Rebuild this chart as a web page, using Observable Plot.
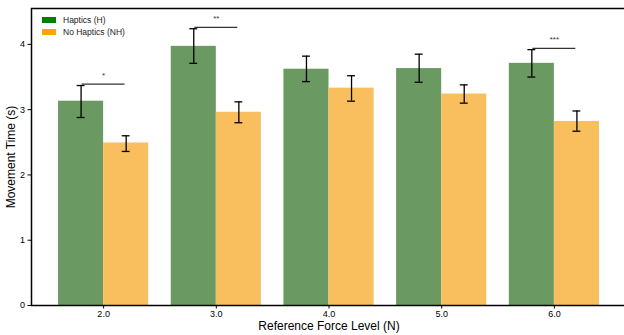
<!DOCTYPE html>
<html>
<head>
<meta charset="utf-8">
<script src="https://cdn.jsdelivr.net/npm/d3@7"></script>
<script src="https://cdn.jsdelivr.net/npm/@observablehq/plot@0.6"></script>
<style>
  html, body { margin: 0; padding: 0; background: #fff; }
  #wrap { position: relative; width: 624px; height: 335px; overflow: hidden; font-family: "Liberation Sans", Arial, sans-serif; }
  .legend { position: absolute; left: 42px; top: 14px; font-size: 8.5px; color: #222; line-height: 12px; }
  .legend .row { display: flex; align-items: center; height: 12px; }
  .legend .sw { width: 14px; height: 6px; margin-right: 7px; }
</style>
</head>
<body>
<div id="wrap"></div>
<script>
const forceLevels = ["2.0", "3.0", "4.0", "5.0", "6.0"];
const hapticsMean = [3.13, 3.97, 3.62, 3.63, 3.71];
const hapticsLow  = [2.88, 3.71, 3.43, 3.42, 3.50];
const hapticsHigh = [3.37, 4.24, 3.82, 3.85, 3.92];
const noHapticsMean = [2.49, 2.96, 3.33, 3.24, 2.82];
const noHapticsLow  = [2.36, 2.80, 3.13, 3.10, 2.67];
const noHapticsHigh = [2.60, 3.12, 3.52, 3.38, 2.98];
const sigLabels = ["*", "**", "", "", "***"];
const sigLineY = [3.39, 4.26, null, null, 3.94];
const yTicks = [0, 1, 2, 3, 4];

const barW = 0.4;
const green = "#6a9a62", orange = "#f9bf5f";

const bars = [];
forceLevels.forEach((f, i) => {
  bars.push({i, group: "H", x1: i - barW, x2: i, xc: i - barW / 2, mean: hapticsMean[i], lo: hapticsLow[i], hi: hapticsHigh[i]});
  bars.push({i, group: "NH", x1: i, x2: i + barW, xc: i + barW / 2, mean: noHapticsMean[i], lo: noHapticsLow[i], hi: noHapticsHigh[i]});
});
const sigs = forceLevels.map((f, i) => ({i, label: sigLabels[i], y: sigLineY[i]})).filter(d => d.label);
const cap = 0.035;

const chart = Plot.plot({
  width: 624,
  height: 335,
  marginLeft: 31,
  marginRight: -2,
  marginTop: 8,
  marginBottom: 30,
  style: {fontFamily: "Liberation Sans, Arial, sans-serif", fontSize: "9px", color: "#000", background: "#fff"},
  x: {type: "linear", domain: [-0.64, 4.64], axis: null},
  y: {domain: [0, 4.55], axis: null},
  marks: [
    Plot.rectY(bars, {x1: "x1", x2: "x2", y1: 0, y2: "mean", fill: d => d.group === "H" ? green : orange}),
    Plot.ruleX(bars, {x: "xc", y1: "lo", y2: "hi", stroke: "#000", strokeWidth: 1.3}),
    Plot.ruleY(bars, {y: "lo", x1: d => d.xc - cap, x2: d => d.xc + cap, stroke: "#000", strokeWidth: 1.3}),
    Plot.ruleY(bars, {y: "hi", x1: d => d.xc - cap, x2: d => d.xc + cap, stroke: "#000", strokeWidth: 1.3}),
    Plot.ruleY(sigs, {y: "y", x1: d => d.i - barW / 2 + 0.01, x2: d => d.i + barW / 2 - 0.01, stroke: "#333", strokeWidth: 1.3}),
    Plot.text(sigs, {x: "i", y: "y", text: "label", dy: -9, fontSize: 8, fill: "#333"}),
    Plot.axisY({ticks: yTicks, tickFormat: d => String(d), tickSize: 3.5, tickPadding: 3, fontSize: 9, label: null}),
    Plot.axisY({ticks: [], label: "Movement Time (s)", labelAnchor: "center", labelArrow: "none", labelOffset: 25, fontSize: 12}),
    Plot.axisX({ticks: forceLevels.map((f, i) => i), tickFormat: i => forceLevels[i], tickSize: 3.5, tickPadding: 2, fontSize: 9, label: null}),
    Plot.axisX({ticks: [], label: "Reference Force Level (N)", labelAnchor: "center", labelArrow: "none", labelOffset: 24, fontSize: 12}),
    Plot.frame({stroke: "#000", strokeWidth: 1.5})
  ]
});

const wrap = document.getElementById("wrap");
wrap.appendChild(chart);
const legend = document.createElement("div");
legend.className = "legend";
legend.innerHTML = `
  <div class="row"><div class="sw" style="background:#008000"></div>Haptics (H)</div>
  <div class="row"><div class="sw" style="background:#ffa500"></div>No Haptics (NH)</div>`;
wrap.appendChild(legend);
</script>
</body>
</html>
